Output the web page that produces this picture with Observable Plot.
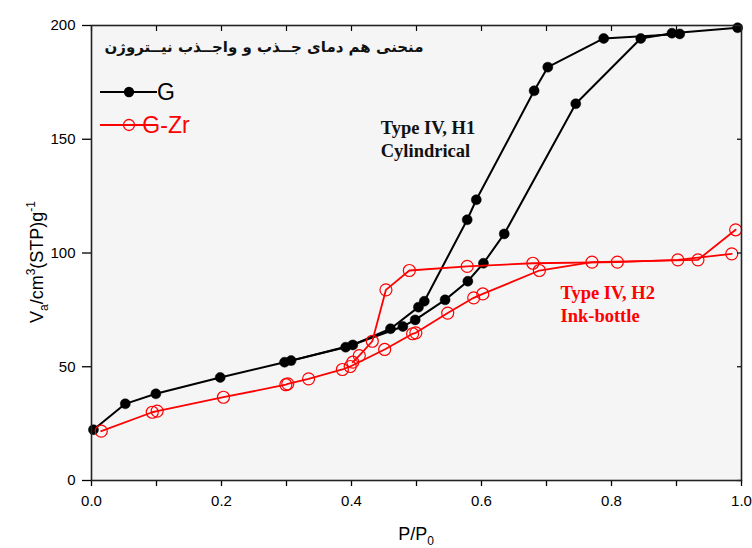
<!DOCTYPE html>
<html>
<head>
<meta charset="utf-8">
<script src="https://cdn.jsdelivr.net/npm/d3@7"></script>
<script src="https://cdn.jsdelivr.net/npm/@observablehq/plot@0.6"></script>
<style>
  html, body { margin: 0; padding: 0; background: #fff; }
  #chart svg { display: block; }
</style>
</head>
<body>
<div id="chart"></div>
<script>
// ---- data ----
const xTicks = [0, 0.1, 0.2, 0.3, 0.4, 0.5, 0.6, 0.7, 0.8, 0.9, 1.0];
const xTickLabels = ["0.0", "", "0.2", "", "0.4", "", "0.6", "", "0.8", "", "1.0"];
const yTicks = [0, 50, 100, 150, 200];
const yTickLabels = ["0", "50", "100", "150", "200"];

const seriesNames = ["G", "G-Zr"];
const titleText = "منحنی هم دمای جــذب و واجــذب نیــتروژن";

// G — adsorption branch
const gAdsX = [0.003, 0.052, 0.099, 0.198, 0.297, 0.391, 0.479, 0.498, 0.544, 0.579, 0.603, 0.635, 0.745, 0.845, 0.893, 0.994];
const gAdsY = [22.3, 33.7, 38.1, 45.3, 52.0, 58.6, 67.7, 70.6, 79.4, 87.6, 95.5, 108.4, 165.6, 194.3, 196.6, 199.0];
// G — desorption branch
const gDesX = [0.905, 0.788, 0.702, 0.681, 0.592, 0.578, 0.512, 0.503, 0.460, 0.402, 0.307];
const gDesY = [196.3, 194.3, 181.7, 171.3, 123.4, 114.6, 78.8, 76.2, 66.7, 59.6, 52.7];

// G-Zr — adsorption branch
const gzAdsX = [0.015, 0.0935, 0.101, 0.203, 0.299, 0.302, 0.334, 0.386, 0.398, 0.451, 0.494, 0.499, 0.548, 0.588, 0.602, 0.689, 0.770, 0.933, 0.991];
const gzAdsY = [21.7, 30.0, 30.5, 36.6, 42.1, 42.5, 44.7, 48.8, 50.1, 57.6, 64.5, 64.9, 73.6, 80.3, 82.0, 92.3, 96.0, 97.0, 110.2];
// G-Zr — desorption branch
const gzDesX = [0.985, 0.902, 0.809, 0.679, 0.578, 0.489, 0.453, 0.432, 0.412, 0.402];
const gzDesY = [99.6, 97.0, 96.0, 95.5, 94.1, 92.3, 83.8, 61.2, 54.9, 52.0];

// ---- build tables ----
function rows(xs, ys, series, branch) {
  return xs.map((x, i) => ({x, y: ys[i], series, branch: series + "-" + branch}));
}
const gRows = [...rows(gAdsX, gAdsY, "G", "ads"), ...rows(gDesX, gDesY, "G", "des")];
const gzRows = [...rows(gzAdsX, gzAdsY, "G-Zr", "ads"), ...rows(gzDesX, gzDesY, "G-Zr", "des")];

const W = 752, H = 548;
const fontSans = "'Liberation Sans', Arial, sans-serif";
const fontSerif = "'Liberation Serif', 'Times New Roman', serif";

const plot = Plot.plot({
  width: W,
  height: H,
  marginLeft: 91,
  marginRight: 11,
  marginTop: 25,
  marginBottom: 68,
  style: {fontFamily: fontSans, fontSize: "15px", color: "#000", background: "#fff"},
  x: {domain: [0, 1], label: null},
  y: {domain: [0, 200], label: null},
  marks: [
    Plot.frame({fill: "#f5f5f5", stroke: null}),
    // black G
    Plot.line(gRows, {x: "x", y: "y", z: "branch", stroke: "#000", strokeWidth: 2}),
    Plot.dot(gRows, {x: "x", y: "y", r: 5, fill: "#000", stroke: "#000", strokeWidth: 0.5}),
    // red G-Zr
    Plot.line(gzRows, {x: "x", y: "y", z: "branch", stroke: "#ff0000", strokeWidth: 1.8}),
    Plot.dot(gzRows, {x: "x", y: "y", r: 6, fill: "none", stroke: "#ff0000", strokeWidth: 1.2}),
    // axes
    Plot.axisX({anchor: "bottom", ticks: xTicks, tickSize: 6, tickPadding: 9,
      tickFormat: (d) => xTickLabels[xTicks.findIndex(t => Math.abs(t - d) < 1e-9)], label: null, fontSize: 15, strokeWidth: 1.3}),
    Plot.axisX({anchor: "top", ticks: xTicks, tickSize: -5, tickFormat: () => "", label: null, strokeWidth: 1.2}),
    Plot.axisY({anchor: "left", ticks: yTicks, tickSize: 9, tickPadding: 7,
      tickFormat: (d) => yTickLabels[yTicks.indexOf(d)], label: null, fontSize: 15, strokeWidth: 1.3}),
    Plot.axisY({anchor: "right", ticks: yTicks, tickSize: -5, tickFormat: () => "", label: null, strokeWidth: 1.2}),
    Plot.frame({stroke: "#222", strokeWidth: 1.6}),
    // annotations
    Plot.text(["Type IV, H1"], {x: 0.445, y: 152.5, text: d => d, textAnchor: "start", lineAnchor: "bottom",
      fontFamily: fontSerif, fontWeight: "bold", fontSize: 18.5, fill: "#111"}),
    Plot.text(["Cylindrical"], {x: 0.445, y: 142, text: d => d, textAnchor: "start", lineAnchor: "bottom",
      fontFamily: fontSerif, fontWeight: "bold", fontSize: 18.5, fill: "#111"}),
    Plot.text(["Type IV, H2"], {x: 0.7215, y: 80, text: d => d, textAnchor: "start", lineAnchor: "bottom",
      fontFamily: fontSerif, fontWeight: "bold", fontSize: 18.5, fill: "#ff0000"}),
    Plot.text(["Ink-bottle"], {x: 0.7215, y: 69.5, text: d => d, textAnchor: "start", lineAnchor: "bottom",
      fontFamily: fontSerif, fontWeight: "bold", fontSize: 18.5, fill: "#ff0000"})
  ]
});

document.getElementById("chart").appendChild(plot);

// ---- extra text: title, legend, axis titles ----
const svg = d3.select(plot);

svg.append("text")
  .attr("x", 264).attr("y", 52)
  .attr("text-anchor", "middle")
  .attr("direction", "rtl")
  .attr("font-family", "'DejaVu Sans', 'Noto Sans', sans-serif")
  .attr("font-weight", "bold")
  .attr("font-size", 15)
  .attr("fill", "#111")
  .text(titleText);

// legend
const legend = svg.append("g");
const legendItems = [
  {name: seriesNames[0], color: "#000", fill: "#000", r: 4.5, y: 92},
  {name: seriesNames[1], color: "#ff0000", fill: "none", r: 5.5, y: 125}
];
legendItems.forEach(it => {
  legend.append("line").attr("x1", 100).attr("x2", 157).attr("y1", it.y).attr("y2", it.y)
    .attr("stroke", it.color).attr("stroke-width", 2);
  legend.append("circle").attr("cx", 129).attr("cy", it.y).attr("r", it.r)
    .attr("fill", it.fill).attr("stroke", it.color).attr("stroke-width", 1.3);
  legend.append("text").attr("x", 166).attr("y", it.y + 8)
    .attr("font-family", fontSans).attr("font-size", 23).attr("fill", it.color)
    .text(it.name);
});

// y axis title
const yt = svg.append("text")
  .attr("transform", "translate(43,262) rotate(-90)")
  .attr("text-anchor", "middle")
  .attr("font-family", fontSans).attr("font-size", 18).attr("fill", "#000");
yt.append("tspan").text("V");
yt.append("tspan").attr("dy", 5).attr("font-size", 12).text("a");
yt.append("tspan").attr("dy", -5).text("/cm");
yt.append("tspan").attr("dy", -8).attr("font-size", 12).text("3");
yt.append("tspan").attr("dy", 8).text("(STP)g");
yt.append("tspan").attr("dy", -8).attr("font-size", 12).text("-1");

// x axis title
const xt = svg.append("text")
  .attr("x", 416).attr("y", 540)
  .attr("text-anchor", "middle")
  .attr("font-family", fontSans).attr("font-size", 18).attr("fill", "#000");
xt.append("tspan").text("P/P");
xt.append("tspan").attr("dy", 5).attr("font-size", 12).text("0");
</script>
</body>
</html>
